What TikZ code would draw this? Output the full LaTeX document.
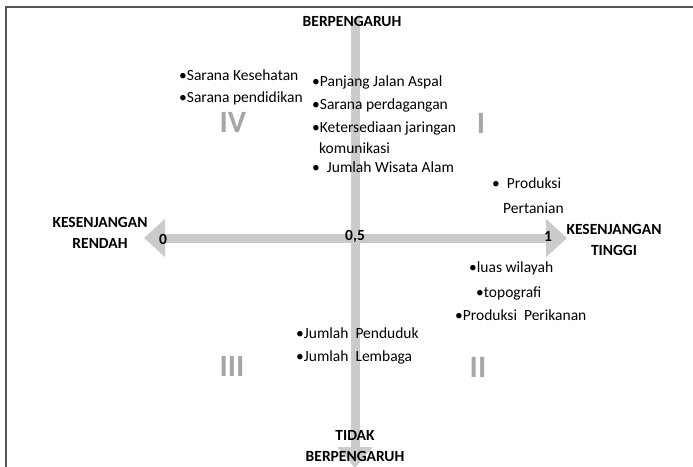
\documentclass[tikz,border=0pt]{standalone}
\usepackage{fontspec}
\setmainfont{Carlito}
\usetikzlibrary{arrows.meta,positioning}
\definecolor{axisgray}{HTML}{CBCBCB}
\definecolor{romangray}{HTML}{A6A6A6}
\definecolor{framegray}{HTML}{555555}
\tikzset{
  itemtext/.style={
    anchor=west,
    inner sep=0pt,
    font=\fontsize{15.5}{20}\selectfont
  },
  axislabel/.style={
    inner sep=0pt,
    align=center,
    font=\fontsize{15.5}{21}\selectfont\bfseries
  },
  ticklabel/.style={axislabel},
  quadnum/.style={
    inner sep=0pt,
    text=romangray,
    font=\fontsize{31}{31}\selectfont\bfseries
  },
  axisarrow/.style={
    line width=9pt,
    draw=axisgray,
    arrows={-Triangle[width=37pt,length=21pt]}
  },
  framerule/.style={draw=framegray, line width=1.6pt}
}
\begin{document}
\begin{tikzpicture}[x=1pt,y=-1pt]
\useasboundingbox (0,0) rectangle (693,466);
\draw[framerule] (6,480) -- (6,7) -- (700,7);
% axes
\coordinate (west) at (144,238);
\coordinate (east) at (567,238);
\coordinate (north) at (355,18);
\coordinate (south) at (355,468);
\draw[axisarrow, arrows={Triangle[width=37pt,length=21pt]-Triangle[width=37pt,length=21pt]}] (west) -- (east);
\draw[axisarrow, arrows={-Triangle[width=34pt,length=21pt]}] (north) -- (south);
% axis labels
\node[axislabel] (top) at (352,21) {BERPENGARUH};
\node[axislabel] (bottom) at (355,446) {TIDAK\\BERPENGARUH};
\node[axislabel] (low) at (100,233) {KESENJANGAN\\RENDAH};
\node[axislabel] (high) at (614,240) {KESENJANGAN\\TINGGI};
\node[ticklabel] (zero) at (163,239) {0};
\node[ticklabel] (half) at (355,236) {0,5};
\node[ticklabel] (one) at (548,236) {1};
% quadrant numbers
\node[quadnum] (q1) at (481,123) {I};
\node[quadnum] (q2) at (478,367) {II};
\node[quadnum] (q3) at (232,366) {III};
\node[quadnum] (q4) at (233,122) {IV};
% quadrant IV
\node[itemtext] (kes) at (179,75) {•Sarana Kesehatan};
\node[itemtext] (pend) at (179,98) {•Sarana pendidikan};
% quadrant I
\node[itemtext] (jalan) at (312,82) {•Panjang Jalan Aspal};
\node[itemtext] (dagang) at (312,105) {•Sarana perdagangan};
\node[itemtext] (jaring) at (312,128) {•Ketersediaan jaringan};
\node[itemtext] (komun) at (319,148) {komunikasi};
\node[itemtext] (wisata) at (312,167) {•\ \ Jumlah Wisata Alam};
\node[itemtext] (tani) at (492,183) {•\ \ Produksi};
\node[itemtext] (tani2) at (503,208) {Pertanian};
% quadrant II
\node[itemtext] (luas) at (469,268) {•luas wilayah};
\node[itemtext] (topo) at (476,293) {•topografi};
\node[itemtext] (ikan) at (455,315) {•Produksi\ \ Perikanan};
% quadrant III
\node[itemtext] (duduk) at (296,333) {•Jumlah\ \ Penduduk};
\node[itemtext] (lembaga) at (296,357) {•Jumlah\ \ Lembaga};
\end{tikzpicture}
\end{document}
